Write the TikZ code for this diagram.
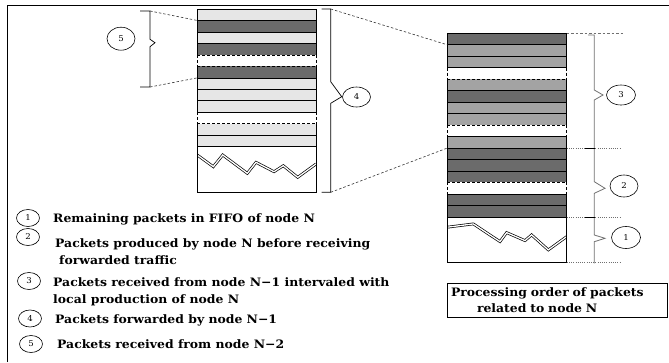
\documentclass[tikz,border=0pt]{standalone}
\usepackage{fontspec}
\setmainfont{DejaVu Serif}[FakeStretch=1.07]
\usepackage{tikz}
\usetikzlibrary{shapes.geometric,calc}
\definecolor{pktLight}{HTML}{E6E6E6}
\definecolor{pktDark}{HTML}{6B6B6B}
\definecolor{pktMid}{HTML}{A3A3A3}
\definecolor{braceGray}{HTML}{707070}
\def\rowH{11.475}
\def\fifoH{45.7}

\begin{document}
\begin{tikzpicture}[x=1pt,y=-1pt]
      \tikzstyle{every node} = [font=\bfseries\fontsize{11.6}{17}\selectfont]
      \tikzstyle{pkt} = [rectangle, inner sep=0pt, outer sep=0pt, minimum height=\rowH pt]
      \tikzstyle{leftPkt} = [pkt, minimum width=118.7pt]
      \tikzstyle{rightPkt} = [pkt, minimum width=119.4pt]
      \tikzstyle{lt} = [fill=pktLight]
      \tikzstyle{dk} = [fill=pktDark]
      \tikzstyle{md} = [fill=pktMid]
      \tikzstyle{gap} = [fill=white]
      \tikzstyle{edge} = [line width=0.7pt]
      \tikzstyle{gapedge} = [line width=0.7pt, dash pattern=on 3pt off 2pt]
      \tikzstyle{dashline} = [line width=0.6pt, draw=black!80, dash pattern=on 2.5pt off 2pt]
      \tikzstyle{hint} = [line width=0.6pt, draw=braceGray, dash pattern=on 1pt off 1.2pt]
      \tikzstyle{braceline} = [line width=0.8pt, draw=braceGray]
      \tikzstyle{zigzagline} = [double=white, double distance=1.3pt, line width=0.7pt, line join=miter]
      \tikzstyle{tag} = [draw, ellipse, inner sep=0pt, line width=0.6pt, font=\fontsize{8}{9}\selectfont]
      \useasboundingbox (0,0) rectangle (669,362);
      \draw[line width=0.8pt] (7,362) -- (7,5) -- (669,5);
      % Stack of node N-1
      \foreach \kind/\topline/\side [count=\i] in {lt/edge/edge, dk/edge/edge, lt/edge/edge, dk/edge/edge, gap/gapedge/gapedge, dk/gapedge/edge, lt/edge/edge, lt/edge/edge, lt/edge/edge, gap/edge/gapedge, lt/gapedge/edge, lt/edge/edge}{
        \node[leftPkt, \kind] (leftRow\i) at (256.65, {9+(\i-0.5)*\rowH}) {};
        \draw[\topline] (leftRow\i.north west) -- (leftRow\i.north east);
        \draw[\side] (leftRow\i.north west) -- (leftRow\i.south west) (leftRow\i.north east) -- (leftRow\i.south east);
      }
      \node[leftPkt, minimum height=\fifoH pt, anchor=north] (leftFifo) at (leftRow12.south) {};
      \begin{scope}
        \clip (leftFifo.north west) rectangle (leftFifo.south east);
        \draw[zigzagline, shift={(leftFifo.north west)}]
        (0,8.3) -- (16,20) -- (25.4,8.3) -- (50,26.6) -- (58.7,15.6) -- (76.7,25) -- (86,19) -- (100.4,30.6) -- (118.7,17.3);
      \end{scope}
      \draw[edge] (leftFifo.north west) rectangle (leftFifo.south east);
      % Stack of node N
      \foreach \kind/\topline/\side [count=\i] in {dk/edge/edge, md/edge/edge, md/edge/edge, gap/edge/gapedge, md/gapedge/edge, dk/edge/edge, md/edge/edge, md/edge/edge, gap/gapedge/gapedge, md/edge/edge, dk/edge/edge, dk/edge/edge, dk/edge/edge, gap/gapedge/gapedge, dk/edge/edge, dk/edge/edge}{
        \node[rightPkt, \kind] (rightRow\i) at (507, {33.3+(\i-0.5)*\rowH}) {};
        \draw[\topline] (rightRow\i.north west) -- (rightRow\i.north east);
        \draw[\side] (rightRow\i.north west) -- (rightRow\i.south west) (rightRow\i.north east) -- (rightRow\i.south east);
      }
      \node[rightPkt, minimum height=\fifoH pt, anchor=north] (rightFifo) at (rightRow16.south) {};
      \begin{scope}
        \clip (rightFifo.north west) rectangle (rightFifo.south east);
        \draw[zigzagline, shift={(rightFifo.north west)}]
        (0,10.3) -- (26,7) -- (52.7,24.7) -- (59.3,15.7) -- (77.7,23.7) -- (84.3,18) -- (101,33) -- (119.4,19.7);
      \end{scope}
      \draw[edge] (rightFifo.north west) rectangle (rightFifo.south east);
      % Braces
      \coordinate (fiveTop) at (150,11);
      \coordinate (fiveBot) at (150,87);
      \draw[edge] ($(fiveTop)+(-10,0)$) -- (fiveTop) -- (150,39.3) -- (155,42.7) -- (150,46.7) -- (fiveBot) -- ++(-10,0);
      \node[tag, minimum width=28pt, minimum height=23pt] (tagFive) at (121,38.7) {5};
      \draw[dashline] (fiveTop) -- (leftRow2.north west);
      \draw[dashline] (fiveBot) -- (leftRow6.south west);
      \coordinate (fourTop) at (330.7,9);
      \coordinate (fourBot) at (330.7,192.3);
      \draw[edge] ($(fourTop)+(-9,0)$) -- (fourTop) -- (330.7,81.7) -- (341.7,96.7) -- (330.7,103.3) -- (fourBot) -- ++(-9,0);
      \node[tag, minimum width=28pt, minimum height=20pt] (tagFour) at (356.5,97) {4};
      \draw[dashline] (fourTop) -- (rightRow1.south west);
      \draw[dashline] (fourBot) -- (rightRow10.south west);
      \draw[hint, dash pattern=on 2.5pt off 2pt] (rightRow1.north east) -- ++(58,0);
      \draw[hint] (rightRow10.south east) -- ++(55,0);
      \draw[hint] (rightRow16.south east) -- ++(55,0);
      \draw[hint] (rightFifo.south east) -- ++(55,0);
      \draw[braceline] (588,35) -- (594.3,35) -- (594.3,90) -- (603,95) -- (594.3,100) -- (594.3,181.7) -- (605,188.3) -- (594.3,193.3) -- (594.3,235) -- (605,238.3) -- (594.3,241.7) -- (594.3,263.3);
      \draw[edge] ($(rightRow10.south east)+(18,0)$) -- ++(10,0);
      \draw[edge] ($(rightRow16.south east)+(18,0)$) -- ++(10,0);
      \node[tag, minimum width=29pt, minimum height=20pt] (tagThree) at (621,95) {3};
      \node[tag, minimum width=28pt, minimum height=22pt] (tagTwo) at (624,186) {2};
      \node[tag, minimum width=29pt, minimum height=22pt] (tagOne) at (626,237.5) {1};
      % Legend
      \node[tag, minimum width=23pt, minimum height=17pt] (legOne) at (28,218) {1};
      \node[anchor=west, inner sep=0pt] (legOneText) at (53,219) {Remaining packets in FIFO of node N};
      \node[tag, minimum width=23pt, minimum height=17pt] (legTwo) at (28,237) {2};
      \node[anchor=west, inner sep=0pt, align=left] (legTwoText) at (55,251.5) {Packets produced by node N before receiving\\\hspace*{4pt}forwarded traffic};
      \node[tag, minimum width=23pt, minimum height=17pt] (legThree) at (29,281) {3};
      \node[anchor=west, inner sep=0pt, align=left] (legThreeText) at (53,292) {Packets received from node N−1 intervaled with\\local production of node N};
      \node[tag, minimum width=23pt, minimum height=17pt] (legFour) at (30,318.5) {4};
      \node[anchor=west, inner sep=0pt] (legFourText) at (55,320) {Packets forwarded by node N−1};
      \node[tag, minimum width=23pt, minimum height=17pt] (legFive) at (31,344) {5};
      \node[anchor=west, inner sep=0pt] (legFiveText) at (57,344.5) {Packets received from node N−2};
      % Caption box
      \node[draw, edge, anchor=north west, minimum width=219.7pt, minimum height=34pt, text width=213pt, align=left, inner sep=3pt, font=\bfseries\fontsize{11.6}{16}\selectfont] (orderBox) at (447.3,282.7) {Processing order of packets\\\hspace*{26pt}related to node N};
\end{tikzpicture}
\end{document}
